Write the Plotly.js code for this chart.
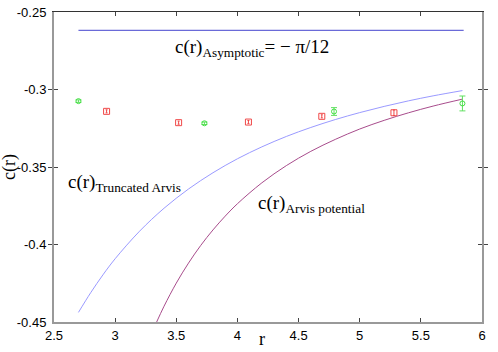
<!DOCTYPE html>
<html>
<head>
<meta charset="utf-8">
<script src="https://cdn.plot.ly/plotly-3.0.1.min.js"></script>
<style>html,body{margin:0;padding:0;background:#fff;}#chart{width:498px;height:352px;}</style>
</head>
<body>
<div id="chart"></div>
<script>
// Asymptotic value line  c(r) = -pi/12
const asymX = [2.7, 5.85];
const asymY = [-0.2618, -0.2618];

// Truncated Arvis curve
const truncX = [2.70, 2.80, 2.90, 3.00, 3.20, 3.40, 3.60, 3.80, 4.00, 4.20, 4.40, 4.60, 4.80, 5.00, 5.20, 5.40, 5.60, 5.84];
const truncY = [-0.4438, -0.4311, -0.4196, -0.4092, -0.3914, -0.3766, -0.3642, -0.3537, -0.3447, -0.3370, -0.3303, -0.3245, -0.3194, -0.3149, -0.3109, -0.3073, -0.3041, -0.3007];

// Arvis potential curve
const arvisX = [3.336, 3.40, 3.50, 3.60, 3.70, 3.80, 3.90, 4.00, 4.20, 4.40, 4.60, 4.80, 5.00, 5.20, 5.40, 5.60, 5.84];
const arvisY = [-0.4506, -0.4398, -0.4249, -0.4120, -0.4006, -0.3906, -0.3817, -0.3737, -0.3602, -0.3491, -0.3399, -0.3322, -0.3255, -0.3199, -0.3150, -0.3107, -0.3062];

// Green data points
const greenX = [2.70, 3.73, 4.79, 5.84];
const greenY = [-0.3075, -0.3218, -0.3142, -0.3090];
const greenErr = [0.0008, 0.0008, 0.0025, 0.0048];

// Red data points
const redX = [2.93, 3.519, 4.09, 4.69, 5.28];
const redY = [-0.3141, -0.3214, -0.3210, -0.3173, -0.3150];
const redErr = [0.0010, 0.0010, 0.0010, 0.0010, 0.0018];

// Tick labels
const xTicks = [2.5, 3, 3.5, 4, 4.5, 5, 5.5, 6];
const xTickText = ['2.5', '3', '3.5', '4', '4.5', '5', '5.5', '6'];
const yTicks = [-0.45, -0.4, -0.35, -0.3, -0.25];
const yTickText = ['-0.45', '-0.4', '-0.35', '-0.3', '-0.25'];

const serif = 'Liberation Serif, Times New Roman, serif';
const sans = 'Liberation Sans, Arial, sans-serif';

const traces = [
  {x: asymX, y: asymY, mode: 'lines', line: {color: '#6a6ad8', width: 1.2}, hoverinfo: 'skip'},
  {x: truncX, y: truncY, mode: 'lines', line: {color: '#9a9aff', width: 1, shape: 'spline'}, hoverinfo: 'skip'},
  {x: arvisX, y: arvisY, mode: 'lines', line: {color: '#a84c8c', width: 1, shape: 'spline'}, hoverinfo: 'skip'},
  {x: greenX, y: greenY, mode: 'markers',
   marker: {symbol: 'circle-open', size: 5, color: '#44e044', line: {width: 1}},
   error_y: {type: 'data', array: greenErr, visible: true, color: '#60e060', thickness: 1, width: 3}},
  {x: redX, y: redY, mode: 'markers',
   marker: {symbol: 'square-open', size: 6, color: '#f04848', line: {width: 1}},
   error_y: {type: 'data', array: redErr, visible: true, color: '#f04848', thickness: 1, width: 1}}
];

const layout = {
  width: 498, height: 352,
  margin: {l: 54, r: 16, t: 12, b: 30},
  paper_bgcolor: '#fff', plot_bgcolor: '#fff',
  showlegend: false,
  font: {family: sans, size: 13, color: '#000'},
  xaxis: {
    range: [2.5, 6], tickvals: xTicks, ticktext: xTickText,
    showgrid: false, zeroline: false,
    showline: true, linecolor: '#999', linewidth: 2,
    ticks: 'inside', ticklen: 4, tickcolor: '#444', tickwidth: 1,
    tickfont: {family: sans, size: 13, color: '#000'},
    ticklabelstandoff: 0
  },
  xaxis2: {
    range: [2.5, 6], overlaying: 'x', side: 'top', tickvals: xTicks,
    showticklabels: false, showgrid: false, zeroline: false,
    showline: true, linecolor: '#333', linewidth: 1,
    ticks: 'inside', ticklen: 4, tickcolor: '#444'
  },
  yaxis: {
    range: [-0.45, -0.25], tickvals: yTicks, ticktext: yTickText,
    showgrid: false, zeroline: false,
    showline: true, linecolor: '#999', linewidth: 2, mirror: 'allticks',
    ticks: 'inside', ticklen: 4, tickcolor: '#444', tickwidth: 1,
    tickfont: {family: sans, size: 13, color: '#000'},
    ticklabelstandoff: 3
  },
  annotations: [
    {xref: 'paper', yref: 'paper', x: 0.277, y: 0.885, xanchor: 'left', yanchor: 'middle', showarrow: false,
     text: 'c(r)<sub>Asymptotic</sub>= − π/12', font: {family: serif, size: 19, color: '#000'}},
    {xref: 'paper', yref: 'paper', x: 0.028, y: 0.45, xanchor: 'left', yanchor: 'middle', showarrow: false,
     text: 'c(r)<sub>Truncated Arvis</sub>', font: {family: serif, size: 19, color: '#000'}},
    {xref: 'paper', yref: 'paper', x: 0.472, y: 0.382, xanchor: 'left', yanchor: 'middle', showarrow: false,
     text: 'c(r)<sub>Arvis potential</sub>', font: {family: serif, size: 19, color: '#000'}},
    {xref: 'paper', yref: 'paper', x: -0.105, y: 0.5, xanchor: 'center', yanchor: 'middle', showarrow: false,
     textangle: -90, text: 'c(r)', font: {family: serif, size: 18, color: '#000'}},
    {xref: 'paper', yref: 'paper', x: 0.486, y: -0.095, xanchor: 'center', yanchor: 'bottom', showarrow: false,
     text: 'r', font: {family: serif, size: 18, color: '#000'}}
  ]
};

traces.push({x: [2.5], y: [-0.3], xaxis: 'x2', mode: 'markers', marker: {opacity: 0}, hoverinfo: 'skip'});

Plotly.newPlot('chart', traces, layout, {displayModeBar: false, staticPlot: true});
</script>
</body>
</html>
